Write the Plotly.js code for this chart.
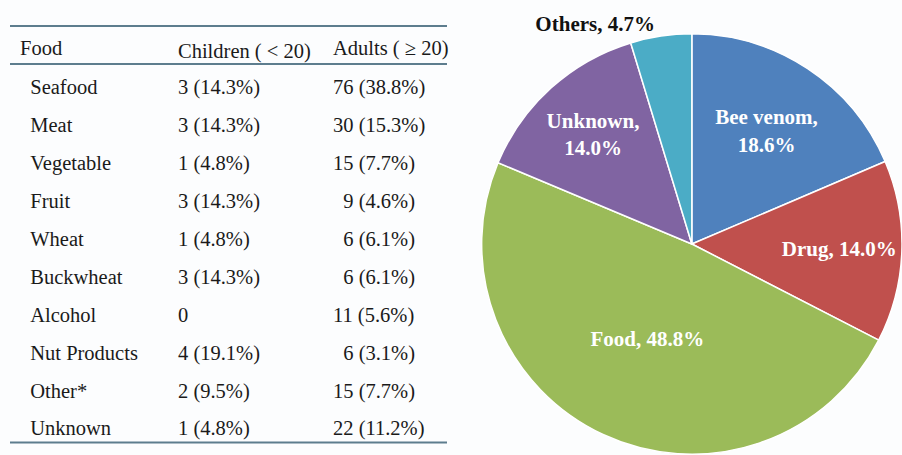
<!DOCTYPE html>
<html>
<head>
<meta charset="utf-8">
<script src="https://cdn.plot.ly/plotly-3.0.1.min.js"></script>
<style>
  html, body { margin: 0; padding: 0; background: #fcfdfe; }
  #chart { width: 902px; height: 455px; }
</style>
</head>
<body>
<div id="chart"></div>
<script>
// table data
var foods = ["Seafood", "Meat", "Vegetable", "Fruit", "Wheat", "Buckwheat", "Alcohol", "Nut Products", "Other*", "Unknown"];
var childN = [3, 3, 1, 3, 1, 3, 0, 4, 2, 1];
var childPct = [14.3, 14.3, 4.8, 14.3, 4.8, 14.3, 0, 19.1, 9.5, 4.8];
var adultN = [76, 30, 15, 9, 6, 6, 11, 6, 15, 22];
var adultPct = [38.8, 15.3, 7.7, 4.6, 6.1, 6.1, 5.6, 3.1, 7.7, 11.2];
var headers = ["Food", "Children ( < 20)", "Adults ( \u2265 20)"];

// pie data
var causes = ["Bee venom", "Drug", "Food", "Unknown", "Others"];
var causePct = [18.6, 14.0, 48.8, 14.0, 4.7];
var causeColors = ["#4f81bd", "#c0504d", "#9bbb59", "#8064a2", "#4bacc6"];

// build cell strings
var col1 = foods.map(x => "\u2002" + x);
var col2 = childN.map((n, i) => n > 0 ? n + " (" + childPct[i].toFixed(1) + "%)" : "0");
var col3 = adultN.map((n, i) => (n < 10 ? "\u2007" : "") + n + " (" + adultPct[i].toFixed(1) + "%)");

var serif = "Liberation Serif, Times New Roman, serif";
var bg = "#fcfdfe";
var rule = "#5d7d8e";

var table = {
  type: "table",
  domain: {x: [12 / 902, 470 / 902], y: [0, 1 - 32 / 455]},
  columnwidth: [158, 155, 145],
  header: {
    values: headers,
    align: "left",
    height: 37,
    fill: {color: bg},
    line: {color: bg, width: 0},
    font: {family: serif, size: 20.5, color: "#1a1a1a"}
  },
  cells: {
    values: [col1, col2, col3],
    align: "left",
    height: 37.9,
    fill: {color: bg},
    line: {color: bg, width: 0},
    font: {family: serif, size: 20.5, color: "#1a1a1a"}
  }
};

var pie = {
  type: "pie",
  labels: causes,
  values: causePct,
  sort: false,
  direction: "clockwise",
  rotation: 0,
  domain: {x: [0.534, 1.0], y: [0, 1 - 33 / 455]},
  marker: {colors: causeColors, line: {color: "#ffffff", width: 1.5}},
  texttemplate: ["%{label},<br>%{value:.1f}%", "%{label}, %{value:.1f}%", "%{label}, %{value:.1f}%",
                 "%{label},<br>%{value:.1f}%", "%{label}, %{value:.1f}%"],
  textposition: ["inside", "inside", "inside", "inside", "outside"],
  insidetextorientation: "horizontal",
  insidetextfont: {family: serif, size: 21, color: "#ffffff", weight: "bold"},
  outsidetextfont: {family: serif, size: 21, color: "#111111", weight: "bold"},
  hoverinfo: "label+value",
  showlegend: false
};

var ruleShape = (y, w) => ({
  type: "line", xref: "paper", yref: "paper",
  x0: 10 / 902, x1: 447 / 902, y0: 1 - y / 455, y1: 1 - y / 455,
  line: {color: rule, width: w}
});

var layout = {
  width: 902,
  height: 455,
  margin: {l: 0, r: 0, t: 0, b: 0},
  paper_bgcolor: bg,
  plot_bgcolor: bg,
  showlegend: false,
  shapes: [ruleShape(26, 2), ruleShape(64, 2), ruleShape(442.5, 2)]
};

Plotly.newPlot("chart", [table, pie], layout, {displayModeBar: false, staticPlot: true});
</script>
</body>
</html>
